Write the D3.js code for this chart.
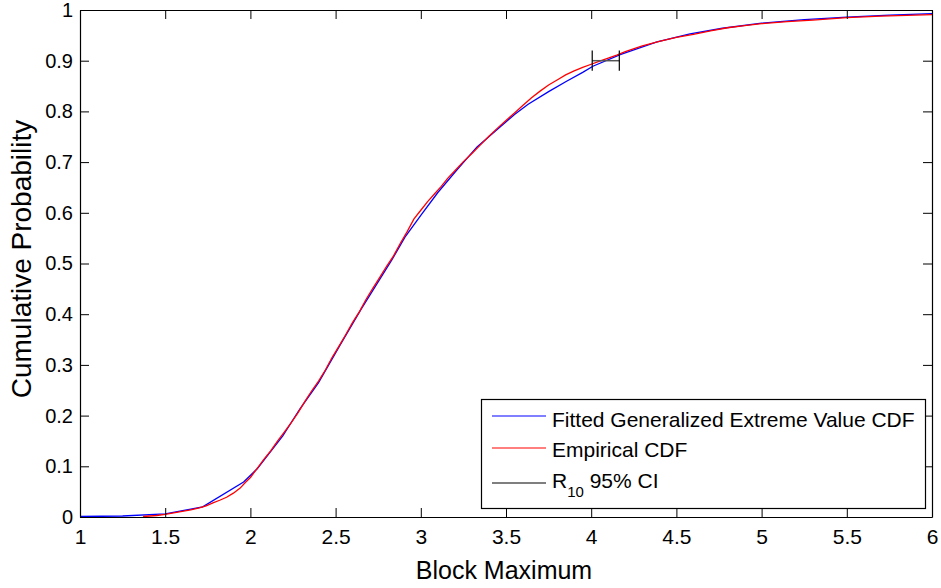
<!DOCTYPE html>
<html>
<head>
<meta charset="utf-8">
<script src="https://cdn.jsdelivr.net/npm/d3@7"></script>
<style>
  html, body { margin: 0; padding: 0; background: #fff; }
  svg { display: block; font-family: "Liberation Sans", Arial, sans-serif; }
</style>
</head>
<body>
<svg id="chart" width="941" height="588"></svg>
<script>
// ---- data ----
const xTicks = [1, 1.5, 2, 2.5, 3, 3.5, 4, 4.5, 5, 5.5, 6];
const xTickLabels = ["1", "1.5", "2", "2.5", "3", "3.5", "4", "4.5", "5", "5.5", "6"];
const yTicks = [0, 0.1, 0.2, 0.3, 0.4, 0.5, 0.6, 0.7, 0.8, 0.9, 1];
const yTickLabels = ["0", "0.1", "0.2", "0.3", "0.4", "0.5", "0.6", "0.7", "0.8", "0.9", "1"];

const fitX = [1.0, 1.25, 1.5, 1.72, 1.96, 2.04, 2.19, 2.29, 2.4, 2.526, 2.65, 2.83, 2.907, 3.0, 3.1, 3.21, 3.33, 3.465, 3.55, 3.63, 3.75, 3.858, 3.95, 4.01, 4.17, 4.386, 4.58, 4.77, 5.0, 5.25, 5.5, 5.75, 6.0];
const fitY = [0.001, 0.002, 0.006, 0.02, 0.069, 0.095, 0.16, 0.213, 0.265, 0.339, 0.41, 0.507, 0.552, 0.595, 0.64, 0.684, 0.73, 0.769, 0.794, 0.814, 0.839, 0.86, 0.877, 0.889, 0.912, 0.937, 0.953, 0.964, 0.974, 0.981, 0.986, 0.99, 0.993];

const empX = [1.37, 1.45, 1.5, 1.55, 1.6, 1.65, 1.7, 1.74, 1.78, 1.82, 1.86, 1.9, 1.94, 1.97, 2.0, 2.04, 2.08, 2.12, 2.16, 2.2, 2.24, 2.28, 2.32, 2.36, 2.4, 2.44, 2.48, 2.52, 2.56, 2.6, 2.64, 2.68, 2.72, 2.76, 2.8, 2.84, 2.88, 2.92, 2.96, 3.0, 3.04, 3.08, 3.12, 3.16, 3.2, 3.25, 3.3, 3.35, 3.4, 3.45, 3.5, 3.55, 3.6, 3.65, 3.7, 3.75, 3.8, 3.85, 3.9, 3.95, 4.0, 4.05, 4.1, 4.15, 4.2, 4.3, 4.4, 4.5, 4.6, 4.7, 4.8, 4.9, 5.0, 5.15, 5.3, 5.5, 5.7, 6.0];
const empY = [0.001, 0.003, 0.005, 0.008, 0.011, 0.014, 0.018, 0.022, 0.028, 0.033, 0.039, 0.047, 0.057, 0.068, 0.078, 0.096, 0.114, 0.131, 0.15, 0.168, 0.186, 0.206, 0.228, 0.249, 0.268, 0.29, 0.315, 0.337, 0.36, 0.384, 0.405, 0.43, 0.452, 0.473, 0.495, 0.515, 0.54, 0.563, 0.588, 0.605, 0.622, 0.637, 0.652, 0.669, 0.683, 0.701, 0.717, 0.734, 0.751, 0.767, 0.782, 0.797, 0.812, 0.827, 0.84, 0.852, 0.862, 0.872, 0.88, 0.887, 0.893, 0.899, 0.905, 0.911, 0.918, 0.929, 0.938, 0.946, 0.952, 0.959, 0.965, 0.969, 0.973, 0.977, 0.98, 0.985, 0.988, 0.991];

const ciLow = 4.006, ciHigh = 4.165, ciLevel = 0.9, ciHalf = 0.02;

const legendLabels = ["Fitted Generalized Extreme Value CDF", "Empirical CDF", "R"];
const legendColors = ["#0000ff", "#ff0000", "#000000"];

// ---- layout ----
const svg = d3.select("#chart");
const L = 80, R = 932, T = 10, B = 517;
const x = d3.scaleLinear().domain([1, 6]).range([L, R]);
const y = d3.scaleLinear().domain([0, 1]).range([B, T]);
const tickLen = 9;

// lines
const fitData = fitX.map((d, i) => [d, fitY[i]]);
const empData = empX.map((d, i) => [d, empY[i]]);

svg.append("path").datum(fitData)
  .attr("fill", "none").attr("stroke", "#0000ff").attr("stroke-width", 1.3)
  .attr("d", d3.line().x(d => x(d[0])).y(d => y(d[1])));

svg.append("path").datum(empData)
  .attr("fill", "none").attr("stroke", "#ff0000").attr("stroke-width", 1.3)
  .attr("d", d3.line().x(d => x(d[0])).y(d => y(d[1])));

// CI
const ci = svg.append("g").attr("stroke", "#000").attr("stroke-width", 1.2);
ci.append("line").attr("x1", x(ciLow)).attr("x2", x(ciHigh)).attr("y1", y(ciLevel)).attr("y2", y(ciLevel)).attr("stroke", "#555").attr("stroke-width", 1.5);
[ciLow, ciHigh].forEach(v => {
  ci.append("line").attr("x1", x(v)).attr("x2", x(v))
    .attr("y1", y(ciLevel + ciHalf)).attr("y2", y(ciLevel - ciHalf));
});

// axes (inward ticks on all four sides)
const axB = svg.append("g").attr("transform", `translate(0,${B})`)
  .call(d3.axisBottom(x).tickValues(xTicks).tickSizeInner(-tickLen).tickSizeOuter(0).tickPadding(12)
    .tickFormat((d, i) => xTickLabels[i]));
const axT = svg.append("g").attr("transform", `translate(0,${T})`)
  .call(d3.axisTop(x).tickValues(xTicks).tickSizeInner(-tickLen).tickSizeOuter(0).tickFormat(""));
const axL = svg.append("g").attr("transform", `translate(${L},0)`)
  .call(d3.axisLeft(y).tickValues(yTicks).tickSizeInner(-tickLen).tickSizeOuter(0).tickPadding(7)
    .tickFormat((d, i) => yTickLabels[i]));
const axR = svg.append("g").attr("transform", `translate(${R},0)`)
  .call(d3.axisRight(y).tickValues(yTicks).tickSizeInner(-tickLen).tickSizeOuter(0).tickFormat(""));

[axB, axT, axL, axR].forEach(g => {
  g.selectAll(".domain").attr("stroke", "#000").attr("stroke-width", 1.2);
  g.selectAll(".tick line").attr("stroke", "#000").attr("stroke-width", 1);
  g.selectAll("text").attr("fill", "#000").attr("font-family", "Liberation Sans, Arial, sans-serif");
});
axB.selectAll("text").attr("font-size", 21).attr("dy", "0.71em");
axL.selectAll("text").attr("font-size", 20);

// axis titles
svg.append("text").attr("x", 504).attr("y", 579).attr("text-anchor", "middle")
  .attr("font-size", 25).attr("fill", "#000").text("Block Maximum");
svg.append("text").attr("transform", "translate(31,259) rotate(-90)").attr("text-anchor", "middle")
  .attr("font-size", 28).attr("fill", "#000").text("Cumulative Probability");

// legend
const lg = svg.append("g");
lg.append("rect").attr("x", 481.5).attr("y", 399.5).attr("width", 444).attr("height", 109)
  .attr("fill", "#fff").attr("stroke", "#000").attr("stroke-width", 1.2);
const rowLineY = [416, 448, 483];
const rowTextY = [427, 457, 488];
legendLabels.forEach((lab, i) => {
  lg.append("line").attr("x1", 492).attr("x2", 546).attr("y1", rowLineY[i]).attr("y2", rowLineY[i])
    .attr("stroke", legendColors[i]).attr("stroke-width", 1.2);
  const t = lg.append("text").attr("x", 552).attr("y", rowTextY[i]).attr("font-size", 21).attr("fill", "#000");
  if (i < 2) {
    t.text(lab);
  } else {
    t.append("tspan").text("R");
    t.append("tspan").attr("font-size", 15).attr("dy", 9).text("10");
    t.append("tspan").attr("dy", -9).text(" 95% CI");
  }
});
</script>
</body>
</html>
